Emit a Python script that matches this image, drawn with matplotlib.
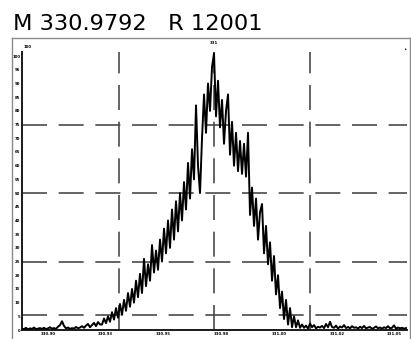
"""
Profile of the M 330.9792 peak (R 12001), redrawn from a scanned trace.
"""
import matplotlib
matplotlib.use('Agg')
import matplotlib.pyplot as plt
from matplotlib.lines import Line2D
import numpy as np

# ── data ─────────────────────────────────────────────────────────────────────
# relative intensity (%), one reading every scan step
intensity = [
    0.5, 0.3, 0.8, 0.2, 0.6, 0.4, 0.9, 0.3, 0.5, 0.7,
    0.4, 0.8, 0.3, 0.6, 1.0, 0.5, 0.7, 0.4, 1.2, 1.8,
    3.2, 1.5, 0.6, 0.9, 0.4, 0.7, 0.5, 1.1, 0.6, 0.9,
    1.4, 0.8, 1.6, 2.2, 1.0, 1.8, 2.6, 1.4, 2.9, 2.0,
    2.0, 4.2, 2.5, 5.0, 3.0, 6.5, 3.8, 8.0, 4.5, 9.5,
    5.5, 11.0, 7.0, 13.5, 8.5, 15.0, 10.0, 18.0, 12.0, 20.5,
    13.5, 26.0, 16.0, 24.0, 18.0, 31.0, 21.0, 29.0, 22.0, 33.0,
    25.0, 37.0, 28.0, 40.0, 30.0, 44.0, 33.0, 47.0, 36.0, 50.0,
    40.0, 54.0, 44.0, 61.0, 48.0, 66.0, 55.0, 82.0, 60.0, 50.0,
    70.0, 86.0, 72.0, 90.0, 80.0, 96.0, 101.0, 78.0, 91.0, 74.0,
    84.0, 68.0, 80.0, 86.0, 64.0, 76.0, 60.0, 72.0, 58.0, 69.0,
    57.0, 68.0, 56.0, 72.0, 42.0, 52.0, 38.0, 48.0, 33.0, 43.0,
    46.0, 28.0, 38.0, 24.0, 32.0, 18.0, 27.0, 13.0, 20.0, 8.0,
    14.0, 4.0, 11.0, 2.0, 8.0, 1.0, 5.0, 1.0, 3.5, 0.8,
    2.0, 0.8, 1.6, 0.5, 2.4, 1.0, 1.8, 0.6, 1.2, 0.9,
    1.5, 0.7, 2.2, 1.0, 3.0, 1.1, 0.8, 1.6, 0.5, 1.3,
    0.9, 1.8, 0.7, 1.1, 0.6, 1.4, 0.8, 1.0, 0.5, 1.2,
    0.7, 1.5, 0.6, 0.9, 1.1, 0.4, 0.8, 1.3, 0.6, 0.9,
    0.5, 1.0, 0.7, 1.4, 0.6, 0.8, 1.7, 0.5, 0.9, 0.6,
    0.8, 0.5, 0.7,
]
mz_start = 330.8888          # first scan point
mz_step = 0.000865           # scan step

x_ticks = [330.900, 330.925, 330.950, 330.975, 331.000, 331.025, 331.050]
y_ticks = list(range(0, 101, 5))
grid_x = [330.9308, 330.9718, 331.0134]
grid_y = [75, 50, 25, 5.5]

title = 'M 330.9792   R 12001'

mz = mz_start + mz_step * np.arange(len(intensity))

# ── figure ───────────────────────────────────────────────────────────────────
W, H = 411, 339
fig = plt.figure(figsize=(W / 100, H / 100), dpi=100, facecolor='white')
ax = fig.add_axes([22 / W, 1 - 330 / H, (407 - 22) / W, (330 - 52) / H])

ax.plot(mz, intensity, color='black', lw=1.4, zorder=3)

for gx in grid_x:
    ax.axvline(gx, color='#4a4a4a', lw=1.2, dashes=(15, 7), zorder=1)
for gy in grid_y:
    ax.axhline(gy, color='#4a4a4a', lw=1.2, dashes=(15, 7), zorder=1)

ax.set_xlim(330.8888, 331.0553)
ax.set_ylim(0, 101.5)
ax.set_xticks(x_ticks)
ax.set_xticklabels([f'{v:.2f}' for v in x_ticks])
ax.set_yticks(y_ticks)
ax.set_yticklabels([str(v) for v in y_ticks])
ax.tick_params(length=0, pad=1.2, labelsize=2.8, colors='black')
for lbl in ax.get_xticklabels() + ax.get_yticklabels():
    lbl.set_fontweight('bold')

for s in ('top', 'right'):
    ax.spines[s].set_visible(False)
for s in ('left', 'bottom'):
    ax.spines[s].set_color('#1a1a1a')
    ax.spines[s].set_linewidth(1.4)

# outer frame of the printout
fx0, fx1, fy1 = 12 / W, 409.5 / W, 1 - 38 / H
for xs, ys in [([fx0, fx0], [0, fy1]), ([fx0, fx1], [fy1, fy1]),
               ([fx1, fx1], [fy1, 0])]:
    fig.add_artist(Line2D(xs, ys, color='#8a8a8a', lw=1.0))

# small marks printed along the top
fig.text(28 / W, 1 - 47 / H, '100', fontsize=2.8, fontweight='bold',
         ha='center', va='center')
fig.text(214 / W, 1 - 43 / H, '331', fontsize=2.8, fontweight='bold',
         ha='center', va='center')
fig.text(405 / W, 1 - 49 / H, '•', fontsize=4, ha='center', va='center')

fig.text(13 / W, 1 - 30 / H, title, fontsize=16.2, family='DejaVu Sans',
         ha='left', va='baseline', color='black')

fig.savefig('out.png', dpi=100, facecolor='white')
